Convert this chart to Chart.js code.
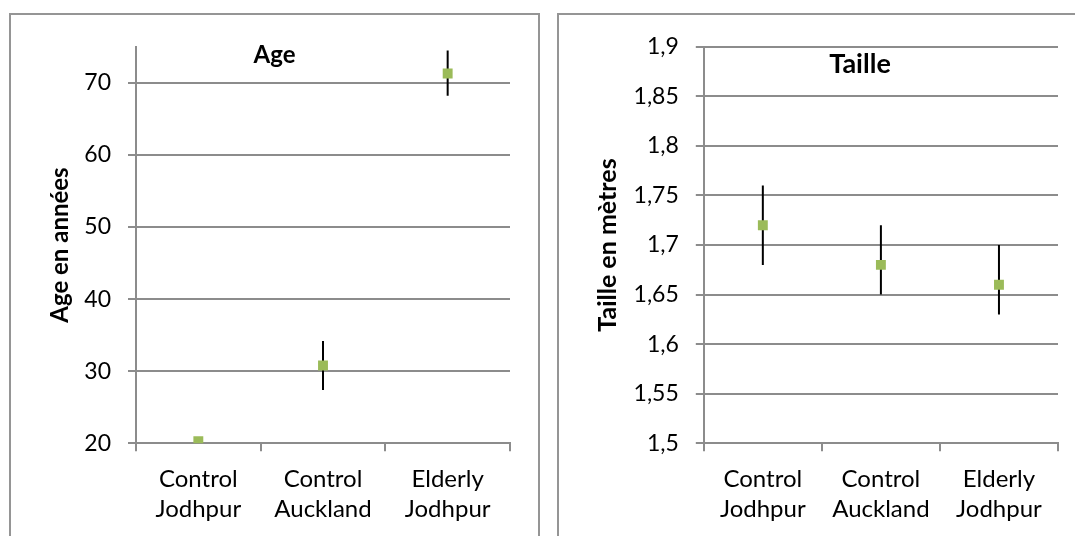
<!DOCTYPE html>
<html>
<head>
<meta charset="utf-8">
<script src="https://cdn.jsdelivr.net/npm/chart.js@4"></script>
<style>
  html, body { margin: 0; padding: 0; background: #fff; overflow: hidden; }
  body { width: 1075px; height: 536px; position: relative; }
  .frame { position: absolute; box-sizing: border-box; border: 2px solid #959595; }
  canvas { position: absolute; }
</style>
</head>
<body>
<div class="frame" style="left:9px; top:13px; width:531px; height:600px;"></div>
<div class="frame" style="left:557px; top:13px; width:620px; height:600px;"></div>
<canvas id="ageChart" width="525" height="520" style="left:12px; top:16px;"></canvas>
<canvas id="tailleChart" width="600" height="520" style="left:560px; top:16px;"></canvas>
<script>
// groups on the x axis (two-line labels)
const groups = [['Control', 'Jodhpur'], ['Control', 'Auckland'], ['Elderly', 'Jodhpur']];

// Age (years): mean and error bar ends
const ageMean = [20.3, 30.8, 71.3];
const ageLow = [20.2, 27.4, 68.2];
const ageHigh = [20.4, 34.2, 74.5];
const ageTicks = ['20', '30', '40', '50', '60', '70'];

// Taille (metres): mean and error bar ends
const tailleMean = [1.72, 1.68, 1.66];
const tailleLow = [1.68, 1.65, 1.63];
const tailleHigh = [1.76, 1.72, 1.70];
const tailleTicks = ['1,5', '1,55', '1,6', '1,65', '1,7', '1,75', '1,8', '1,85', '1,9'];

const GRID = '#8c8c8c';
const GREEN = '#9bbb59';
const FONT = 'Lato';

// chart title drawn over the plot, centred on the canvas
const overlayTitle = {
    id: 'overlayTitle',
    afterDraw(chart, args, opts) {
        const ctx = chart.ctx;
        ctx.save();
        ctx.font = 'bold ' + opts.size + 'px ' + FONT;
        ctx.fillStyle = '#000';
        ctx.textAlign = 'center';
        ctx.textBaseline = 'alphabetic';
        ctx.fillText(opts.text, chart.width / 2, opts.y);
        ctx.restore();
    }
};

function makeChart(canvasId, cfg) {
    const ctx = document.getElementById(canvasId);
    return new Chart(ctx, {
        type: 'bar',
        data: {
            labels: groups,
            datasets: [{
                type: 'line',
                data: cfg.mean,
                showLine: false,
                pointStyle: 'rect',
                pointRadius: 7,
                pointHoverRadius: 7,
                pointBackgroundColor: GREEN,
                pointBorderColor: GREEN,
                pointBorderWidth: 0
            }, {
                // error bars as thin floating bars
                type: 'bar',
                data: cfg.low.map((v, i) => [v, cfg.high[i]]),
                backgroundColor: '#000',
                borderWidth: 0,
                barThickness: 2,
                inflateAmount: 0
            }]
        },
        options: {
            responsive: false,
            animation: false,
            events: [],
            layout: { padding: { top: cfg.top, right: cfg.right, left: 0, bottom: 0 } },
            plugins: {
                legend: { display: false },
                tooltip: { enabled: false },
                overlayTitle: { text: cfg.title, y: cfg.titleY, size: cfg.titleSize }
            },
            scales: {
                x: {
                    offset: true,
                    afterFit: s => { s.height = cfg.xHeight; },
                    grid: {
                        offset: true,
                        drawOnChartArea: false,
                        color: GRID,
                        lineWidth: 2,
                        tickLength: 8
                    },
                    border: { color: GRID, width: 2 },
                    ticks: {
                        color: '#000',
                        padding: 12,
                        maxRotation: 0,
                        autoSkip: false,
                        font: { family: FONT, size: 24, lineHeight: 1.29 }
                    }
                },
                y: {
                    min: cfg.min,
                    max: cfg.max,
                    afterFit: s => { s.width = cfg.yWidth; },
                    grid: { color: GRID, lineWidth: 2, tickLength: 8 },
                    border: { color: GRID, width: 2 },
                    ticks: {
                        stepSize: cfg.step,
                        includeBounds: false,
                        color: '#000',
                        padding: 17,
                        font: { family: FONT, size: 23 },
                        callback: (v, i) => cfg.tickLabels[i]
                    },
                    title: {
                        display: true,
                        text: cfg.yTitle,
                        color: '#000',
                        padding: { top: cfg.yTitlePad, bottom: 0 },
                        font: { family: FONT, size: cfg.yTitleSize, weight: 'bold' }
                    }
                }
            }
        },
        plugins: [overlayTitle]
    });
}

makeChart('ageChart', {
    mean: ageMean, low: ageLow, high: ageHigh, tickLabels: ageTicks,
    min: 20, max: 75, step: 10,
    title: 'Age', titleY: 47, titleSize: 24, yTitle: 'Age en années', yTitleSize: 24,
    top: 27.7, right: 27, xHeight: 92.7, yWidth: 124, yTitlePad: 33.5
});

makeChart('tailleChart', {
    mean: tailleMean, low: tailleLow, high: tailleHigh, tickLabels: tailleTicks,
    min: 1.5, max: 1.9, step: 0.05,
    title: 'Taille', titleY: 57.4, titleSize: 27, yTitle: 'Taille en mètres', yTitleSize: 25,
    top: 26.7, right: 102, xHeight: 92.7, yWidth: 143.8, yTitlePad: 33
});
</script>
</body>
</html>
